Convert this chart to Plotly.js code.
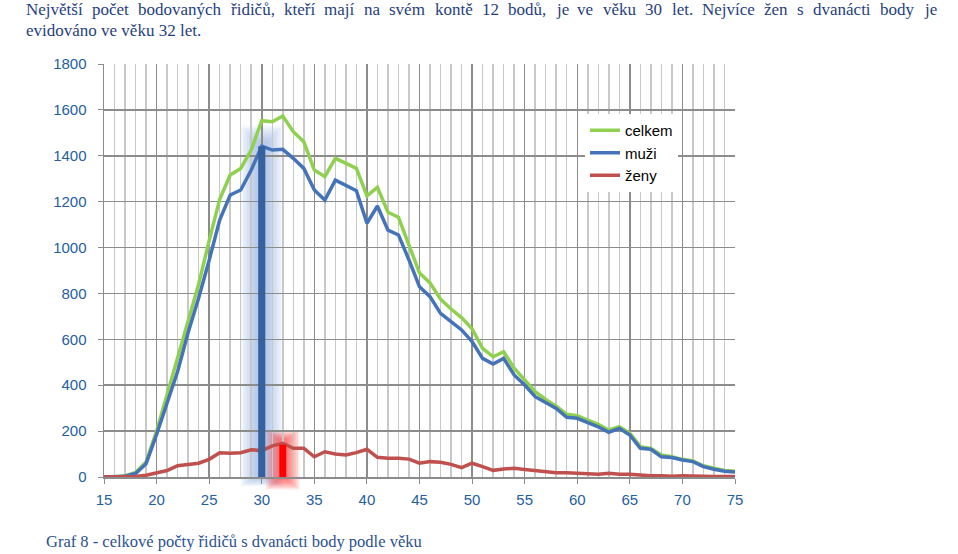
<!DOCTYPE html>
<html>
<head>
<meta charset="utf-8">
<script src="https://cdn.plot.ly/plotly-3.0.1.min.js"></script>
<style>
html,body{margin:0;padding:0;background:#fff;}
#chart{width:958px;height:554px;}
</style>
</head>
<body>
<div id="chart"></div>
<script>
// ---- data ----
const ages = [15,16,17,18,19,20,21,22,23,24,25,26,27,28,29,30,31,32,33,34,35,36,37,38,39,40,41,42,43,44,45,46,47,48,49,50,51,52,53,54,55,56,57,58,59,60,61,62,63,64,65,66,67,68,69,70,71,72,73,74,75];
const celkem = [0,0,5,20,65,200,360,520,690,840,1030,1210,1316,1345,1425,1553,1548,1573,1505,1461,1338,1309,1389,1367,1345,1225,1262,1154,1132,1011,889,846,775,732,695,646,561,524,546,474,423,372,338,309,273,267,248,230,205,219,190,132,125,96,88,77,70,49,38,28,25];
const muzi = [0,0,3,15,58,185,320,460,630,780,945,1120,1229,1251,1338,1442,1425,1428,1389,1345,1251,1207,1294,1273,1248,1106,1181,1076,1055,946,829,786,713,677,641,590,517,492,517,445,401,350,324,299,260,256,237,219,195,212,183,125,121,88,85,74,67,45,34,25,22];
const zeny = [0,0,0,2,8,18,28,49,55,60,77,106,103,106,119,115,136,147,125,125,88,110,100,96,106,121,86,82,82,78,60,67,64,55,41,60,45,29,35,38,33,28,23,19,19,16,12,12,16,12,12,7,5,5,3,5,3,2,2,2,2];
const seriesNames = ['celkem','muži','ženy'];
const xTickVals = [15,20,25,30,35,40,45,50,55,60,65,70,75];
const yTickVals = [0,200,400,600,800,1000,1200,1400,1600,1800];
const headline1 = 'Největší počet bodovaných řidičů, kteří mají na svém kontě 12 bodů, je ve věku 30 let. Nejvíce žen s dvanácti body je';
const headline2 = 'evidováno ve věku 32 let.';
const caption = 'Graf 8 - celkové počty řidičů s dvanácti body podle věku';

// ---- layout constants ----
const W = 958, H = 554;
const L = 104, R = 223, T = 64, B = 77;
const PW = W - L - R, PH = H - T - B;
const XR = [15, 75], YR = [0, 1800];
const textBlue = '#1f3f80';
const tickBlue = '#24609f';
const gridDark = '#8c8c8c';
const gridLight = '#c8c8c8';

const pxX = px => (px - L) / PW;
const pxY = py => (H - B - py) / PH;
const dX = a => (a - XR[0]) / (XR[1] - XR[0]);
const dY = v => (v - YR[0]) / (YR[1] - YR[0]);

const traces = [
  {x: ages, y: celkem, name: seriesNames[0], mode: 'lines', line: {color: '#8fd14f', width: 3.5}},
  {x: ages, y: muzi, name: seriesNames[1], mode: 'lines', line: {color: '#4473b9', width: 3.5}},
  {x: ages, y: zeny, name: seriesNames[2], mode: 'lines', line: {color: '#c0504d', width: 3.5}}
];

// highlight shapes derived from data peaks
function argmax(arr){let k=0;for(let i=1;i<arr.length;i++) if(arr[i]>arr[k]) k=i;return k;}
const iM = argmax(muzi), iZ = argmax(zeny);
const aM = ages[iM], vM = muzi[iM];
const aZ = ages[iZ], vZ = zeny[iZ];
const shapes = [];
for (let i = 0; i < 8; i++) {
  const hw = 2.0 - i * 0.2;
  shapes.push({type: 'rect', xref: 'paper', yref: 'paper', layer: 'between',
    x0: dX(aM - hw), x1: dX(aM + hw), y0: dY(-40 + i * 5), y1: dY(vM + 90 - i * 10),
    fillcolor: 'rgb(110,150,210)', opacity: 0.075, line: {width: 0}});
}
for (let i = 0; i < 8; i++) {
  const hw = 1.6 - i * 0.16;
  shapes.push({type: 'rect', xref: 'paper', yref: 'paper', layer: 'between',
    x0: dX(aZ - hw), x1: dX(aZ + hw), y0: dY(-55 + i * 6), y1: dY(vZ + 55 - i * 5),
    fillcolor: 'rgb(255,40,40)', opacity: 0.1, line: {width: 0}});
}
shapes.push({type: 'rect', xref: 'paper', yref: 'paper', layer: 'above',
  x0: dX(aM - 0.34), x1: dX(aM + 0.34), y0: dY(0), y1: dY(vM),
  fillcolor: '#35619f', line: {width: 0}});
shapes.push({type: 'rect', xref: 'paper', yref: 'paper', layer: 'above',
  x0: dX(aZ - 0.33), x1: dX(aZ + 0.33), y0: dY(0), y1: dY(vZ - 6),
  fillcolor: '#ff0000', line: {width: 0}});

// justified headline line 1
const annotations = [];
const cvs = document.createElement('canvas').getContext('2d');
const hFont = 17;
cvs.font = hFont + 'px "Liberation Serif"';
const words = headline1.split(' ');
const widths = words.map(w => cvs.measureText(w).width);
const sum = widths.reduce((a, b) => a + b, 0);
const left = 25, right = 935;
const gap = (right - left - sum) / (words.length - 1);
let cx = left;
words.forEach((w, i) => {
  annotations.push({xref: 'paper', yref: 'paper', x: pxX(cx), y: pxY(10), xanchor: 'left', yanchor: 'middle',
    text: w, showarrow: false, borderpad: 0, font: {family: 'Liberation Serif', size: hFont, color: textBlue}});
  cx += widths[i] + gap;
});
annotations.push({xref: 'paper', yref: 'paper', x: pxX(25), y: pxY(30.5), xanchor: 'left', yanchor: 'middle',
  text: headline2, showarrow: false, borderpad: 0, font: {family: 'Liberation Serif', size: hFont, color: textBlue}});
annotations.push({xref: 'paper', yref: 'paper', x: pxX(45), y: pxY(541), xanchor: 'left', yanchor: 'middle',
  text: caption, showarrow: false, borderpad: 0, font: {family: 'Liberation Serif', size: 16.5, color: '#2a5090'}});

const layout = {
  width: W, height: H,
  margin: {l: L, r: R, t: T, b: B, pad: 0},
  paper_bgcolor: '#ffffff', plot_bgcolor: '#ffffff',
  showlegend: true,
  legend: {x: pxX(585), y: pxY(114), xanchor: 'left', yanchor: 'top', bgcolor: '#ffffff', borderwidth: 0,
    font: {family: 'Liberation Sans', size: 15, color: '#000'}, itemwidth: 30, tracegroupgap: 0},
  xaxis: {range: XR, tickvals: xTickVals, showgrid: true, gridcolor: gridDark, gridwidth: 1.5,
    minor: {dtick: 1, tick0: 15, showgrid: true, gridcolor: gridLight, gridwidth: 1.5},
    showline: true, linecolor: gridDark, linewidth: 1.5, zeroline: false,
    ticks: 'outside', ticklen: 5, tickcolor: gridDark, ticklabelstandoff: 3,
    tickfont: {family: 'Liberation Sans', size: 15, color: tickBlue}, fixedrange: true},
  yaxis: {range: YR, tickvals: yTickVals, showgrid: true, gridcolor: gridDark, gridwidth: 1.5,
    showline: true, linecolor: gridDark, linewidth: 1.5, zeroline: false,
    ticks: 'outside', ticklen: 5, tickcolor: gridDark, ticklabelstandoff: 8,
    tickfont: {family: 'Liberation Sans', size: 15, color: tickBlue}, fixedrange: true},
  shapes: shapes,
  annotations: annotations
};

Plotly.newPlot('chart', traces, layout, {displayModeBar: false, staticPlot: true});
</script>
</body>
</html>
